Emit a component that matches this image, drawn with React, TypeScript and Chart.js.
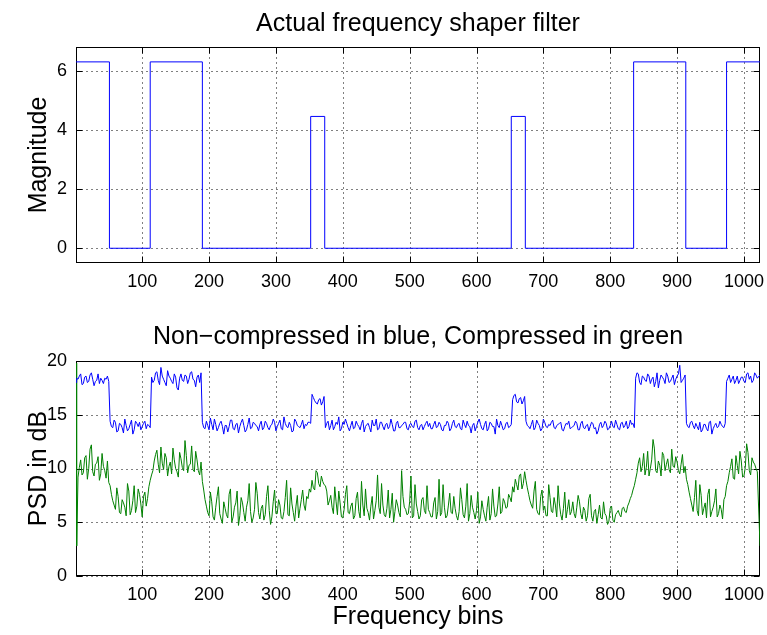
import React, { useEffect, useRef } from "react";
import { Chart, registerables } from "chart.js";

Chart.register(...registerables);

const FONT = "'Liberation Sans', Arial, Helvetica, sans-serif";

// ---------- tick labels ----------
const X_TICKS = [100, 200, 300, 400, 500, 600, 700, 800, 900, 1000];
const TOP_Y_TICKS = [0, 2, 4, 6];
const BOT_Y_TICKS = [0, 5, 10, 15, 20];

// ---------- titles ----------
const TOP_TITLE = "Actual frequency shaper filter";
const TOP_Y_TITLE = "Magnitude";
const BOT_TITLE = "Non\u2212compressed in blue, Compressed in green";
const BOT_Y_TITLE = "PSD in dB";
const BOT_X_TITLE = "Frequency bins";

// ---------- top plot: step filter (bin where each level starts) ----------
const FILTER_STARTS = [1, 51, 112, 190, 352, 373, 652, 673, 835, 913, 974];
const FILTER_LEVELS = [6.32, 0, 6.32, 0, 4.47, 0, 4.47, 0, 6.32, 0, 6.32];
const FILTER_END_BIN = 1024;

// ---------- bottom plot: PSD in dB ----------
// first bins
const PSD_HEAD_BINS = [1, 2];
const BLUE_HEAD = [18.0, 18.4];
const GREEN_HEAD = [19.8, 2.8];
// last bin
const PSD_TAIL_BINS = [1024];
const BLUE_TAIL = [18.7];
const GREEN_TAIL = [2.8];
// set A: bins 4, 8, ..., 1020
const A_FIRST = 4;
const A_LAST = 1020;
// set B: bins 6, 10, ..., 1018
const B_FIRST = 6;
const B_LAST = 1018;
const BIN_STEP = 4;

const BLUE_A = [
  18.3, 18.8, 17.9, 18.6, 18.1, 18.9, 17.7, 18.2, 17.9, 18.2, 18.4, 18.6,
  14.4, 13.8, 14.3, 13.5, 14.1, 13.3, 14.0, 13.7, 14.5, 13.6, 14.2, 14.3, 13.9, 14.4, 14.1, 13.8,
  18.0, 18.9, 18.2, 19.4, 18.3, 17.7, 18.6, 18.1, 18.8, 17.5, 18.4, 18.2, 18.7, 17.9, 18.9, 18.3, 17.6, 18.7, 18.9,
  13.8, 14.4, 13.6, 14.1, 14.6, 13.5, 14.2, 13.9, 14.0, 13.4, 14.5, 13.7, 14.1, 13.3, 14.3, 14.0, 13.6, 14.7, 13.8, 14.2,
  13.9, 14.1, 13.6, 14.4, 13.8, 14.0, 14.6, 13.5, 14.2, 13.7, 14.8, 13.9, 14.3, 13.4, 14.6, 14.0, 13.8, 14.5, 14.1, 14.3, 14.2,
  16.6, 16.1, 16.4, 15.9, 16.7,
  14.2, 13.6, 14.5, 13.9, 14.1, 13.5, 14.3, 14.6, 13.8, 14.0,
  13.7, 14.4, 13.9, 14.2, 13.4, 14.1, 13.8, 14.5, 14.0, 13.6,
  14.3, 13.9, 14.1, 13.7, 14.6, 13.5, 14.2, 13.8, 14.0, 14.3,
  13.7, 14.1, 13.9, 14.4, 13.8, 14.0, 13.6, 14.2, 13.9, 13.7,
  14.1, 13.8, 14.3, 13.6, 14.0, 14.4, 13.5, 14.2, 13.9, 14.1,
  13.7, 14.5, 13.8, 14.0, 13.3, 14.2, 13.9, 14.6, 13.7, 14.1,
  13.5, 14.3, 13.9, 13.2, 14.0, 14.4, 13.6, 14.2, 13.8, 14.1,
  16.8, 16.2, 16.5, 16.0, 16.7,
  14.0, 13.7, 14.5, 13.8, 14.2, 13.5, 14.6, 13.9, 14.1, 14.3,
  13.8, 14.0, 14.2, 13.6, 13.9, 14.1, 13.7, 13.9, 14.4, 13.6,
  14.2, 13.8, 14.0, 13.5, 14.3, 13.7, 13.2, 14.1, 13.8, 14.4,
  13.6, 14.0, 13.9, 14.5, 13.7, 14.2, 13.8, 14.4, 13.9, 14.1, 13.8,
  18.9, 18.0, 18.6, 18.2, 18.8, 17.9, 18.5, 18.1, 17.5, 18.7, 18.3, 18.9, 18.0, 18.4, 17.8, 18.6, 19.6, 18.2, 18.7,
  13.9, 14.3, 14.0, 14.2, 13.6, 13.4, 14.1, 13.7, 14.3, 13.2, 14.0, 13.8, 14.4, 13.9, 14.2,
  18.4, 18.0, 18.6, 18.2, 17.9, 18.5, 18.1, 18.8, 18.3, 18.0, 18.9, 18.4,
];

const BLUE_B = [
  18.6, 17.8, 18.5, 18.0, 18.7, 18.3, 18.1, 18.8, 18.4, 17.9, 18.3, 18.1,
  13.9, 14.5, 13.4, 14.2, 13.8, 14.6, 13.5, 14.1, 13.2, 14.4, 13.9, 13.6, 14.2, 13.7, 14.0,
  18.5, 18.2, 19.0, 17.8, 18.6, 18.0, 19.1, 18.4, 17.9, 18.5, 17.3, 18.8, 18.1, 18.6, 18.3, 19.0, 18.2, 18.5, 18.0,
  14.3, 13.7, 14.0, 14.7, 13.6, 14.1, 13.8, 14.4, 13.2, 14.0,
  13.9, 14.5, 13.6, 14.2, 13.9, 14.6, 13.4, 14.1, 13.7, 14.3,
  14.0, 13.5, 14.4, 13.8, 14.2, 13.6, 14.1, 14.3, 13.9, 14.5,
  13.6, 14.2, 13.8, 14.0, 13.5, 14.4, 13.9, 14.1, 13.7, 14.0, 14.3,
  16.9, 16.3, 16.0, 16.5, 16.2,
  13.8, 14.4, 14.0, 13.6, 14.3, 14.8, 13.7, 14.1, 14.2, 13.5,
  14.4, 13.8, 14.1, 13.6, 14.5, 13.9, 14.2, 13.4, 14.0, 14.6,
  13.7, 14.3, 13.6, 14.2, 13.9, 14.1, 13.5, 14.4, 13.8, 14.1,
  14.3, 13.6, 14.2, 13.8, 14.5, 13.6, 14.1, 13.9, 14.4, 14.2,
  13.7, 14.4, 13.9, 14.1, 13.5, 14.0, 14.2, 13.7, 14.5, 13.8,
  14.2, 13.6, 14.1, 14.4, 13.9, 14.0, 13.5, 14.3, 14.1, 13.6,
  14.4, 13.7, 14.2, 13.9, 14.6, 13.8, 14.0, 13.7, 14.3, 13.9,
  16.4, 16.9, 16.1, 16.6, 16.3,
  14.4, 13.9, 14.1, 13.6, 14.5, 14.0, 13.7, 14.3, 13.8, 14.0,
  14.5, 13.7, 14.1, 14.3, 13.5, 14.2, 14.4, 13.8, 14.0, 14.2,
  13.6, 14.4, 13.7, 14.1, 13.9, 14.2, 13.8, 13.5, 14.3, 14.0,
  14.2, 13.7, 14.4, 13.8, 14.1, 13.6, 14.3, 14.0, 13.7, 14.5, 14.2,
  18.4, 18.8, 17.8, 18.5, 18.1, 18.6, 18.3, 17.6, 18.9, 18.2, 18.5, 17.9, 18.6, 18.1, 18.7, 18.3, 18.8, 18.0, 18.4,
  14.2, 13.8, 14.4, 13.7, 13.9, 14.3, 13.6, 14.1, 13.5, 14.4, 13.7, 14.2, 13.9, 14.1, 13.8,
  18.1, 18.7, 18.3, 17.9, 18.6, 18.2, 18.5, 18.0, 18.9, 18.6, 18.2, 18.7,
];

const GREEN_A = [
  9.2, 10.8, 9.6, 11.2, 10.0, 12.2, 9.3, 10.5, 8.9, 11.4, 9.8, 10.7,
  8.4, 7.0, 6.2, 7.4, 5.8, 6.8, 5.6, 7.9, 6.1, 8.4, 6.5, 7.6, 5.5, 7.8, 7.2, 8.9,
  9.8, 11.3, 10.4, 12.0, 9.9, 11.0, 10.2, 9.5, 10.8, 9.7, 11.5, 10.1, 12.6, 9.6, 10.4, 9.9, 11.6, 9.8, 10.6,
  8.0, 6.5, 5.6, 6.9, 5.2, 7.4, 5.8, 4.9, 6.3, 5.4, 8.1, 5.5, 6.8, 4.7, 7.3, 5.9, 6.4, 8.6, 5.0, 6.2,
  7.7, 5.3, 6.6, 5.7, 8.4, 4.8, 6.9, 5.8, 7.1, 5.4, 6.0, 8.9, 5.6, 6.7, 5.1, 7.5, 6.3, 8.0, 6.1, 7.2, 7.8,
  8.2, 9.8, 8.6, 9.3, 8.5,
  7.9, 7.0, 6.4, 8.3, 5.7, 6.8, 5.4, 7.6, 5.9, 6.5,
  5.3, 7.2, 6.0, 8.8, 5.6, 6.3, 5.2, 7.4, 6.1, 9.4,
  5.8, 6.6, 5.5, 8.0, 6.2, 5.0, 7.1, 5.9, 9.8, 6.4,
  5.7, 6.9, 5.4, 8.5, 6.0, 5.6, 7.3, 5.8, 6.2, 5.5,
  6.8, 5.3, 9.0, 5.9, 6.4, 5.6, 7.7, 5.8, 6.3, 5.2,
  8.2, 5.7, 6.5, 5.1, 7.5, 5.9, 6.1, 4.9, 7.0, 5.6,
  6.4, 5.2, 8.1, 5.5, 6.7, 5.8, 7.2, 6.3, 7.6, 6.9,
  7.8, 8.5, 9.3, 8.1, 9.7,
  8.2, 7.0, 6.3, 8.8, 5.8, 7.4, 6.1, 5.6, 8.5, 6.0,
  7.3, 5.5, 6.7, 5.2, 7.8, 6.2, 5.7, 6.9, 5.4, 7.5,
  5.8, 6.4, 5.1, 7.2, 5.6, 6.0, 4.9, 6.6, 5.3, 5.8,
  4.8, 6.3, 5.2, 5.7, 6.1, 5.5, 6.4, 5.9, 6.8, 7.5, 8.4,
  9.6, 11.0, 10.2, 9.4, 11.6, 10.0, 12.7, 9.8, 10.7, 9.3, 11.2, 10.4, 9.9, 11.8, 10.1, 10.6, 9.5, 11.3, 10.2,
  8.5, 7.2, 6.0, 8.9, 5.6, 7.5, 6.3, 5.4, 8.1, 6.0, 7.0, 5.5, 6.6, 5.3, 7.4,
  8.8, 10.2, 9.1, 11.2, 9.5, 10.7, 9.3, 12.3, 9.8, 11.0, 10.4, 9.7,
];

const GREEN_B = [
  10.1, 9.4, 11.0, 9.0, 11.8, 9.7, 10.4, 11.1, 9.5, 10.2, 9.1, 8.7,
  7.6, 6.6, 8.2, 5.9, 7.1, 6.4, 8.6, 5.7, 7.0, 5.9, 8.1, 6.7, 7.4, 6.5, 8.3,
  9.4, 10.7, 11.7, 9.6, 10.5, 11.4, 9.3, 10.6, 11.9, 10.0, 9.2, 10.9, 9.8, 11.2, 10.3, 12.1, 9.7, 10.8, 9.4,
  8.8, 7.1, 5.9, 7.8, 5.5, 6.4, 8.3, 5.3, 6.9, 5.7,
  7.6, 5.0, 6.4, 7.9, 5.6, 6.8, 5.1, 7.0, 6.0, 5.4,
  8.7, 5.9, 6.3, 5.2, 7.4, 6.1, 5.5, 8.0, 5.8, 6.6,
  5.3, 7.3, 5.7, 8.2, 5.9, 6.5, 5.4, 7.1, 6.6, 7.4, 8.1,
  8.9, 8.0, 9.6, 8.3, 8.8,
  8.4, 6.6, 7.5, 5.8, 6.9, 7.9, 5.5, 6.2, 8.4, 5.8,
  6.8, 5.6, 7.8, 5.4, 6.6, 8.1, 5.9, 6.5, 5.3, 7.0,
  6.4, 8.6, 5.7, 6.3, 5.4, 7.7, 6.0, 6.6, 5.5, 7.4,
  6.2, 5.8, 9.3, 5.6, 6.7, 5.3, 7.1, 6.1, 8.4, 5.9,
  5.5, 7.3, 6.0, 5.6, 8.5, 5.4, 6.6, 5.9, 7.4, 5.6,
  6.0, 7.1, 5.4, 8.6, 5.8, 6.4, 5.3, 7.8, 5.5, 6.2,
  5.1, 7.4, 5.8, 6.5, 5.6, 8.3, 6.0, 6.9, 6.4, 7.3,
  8.3, 9.0, 8.0, 9.5, 8.6,
  8.9, 7.6, 6.6, 7.9, 6.2, 5.7, 8.0, 6.5, 5.6, 7.3,
  5.9, 6.6, 8.4, 5.7, 6.3, 5.4, 7.1, 6.0, 5.8, 6.4,
  6.9, 5.3, 6.1, 5.6, 7.6, 5.1, 6.2, 5.7, 5.4, 6.9,
  5.6, 5.1, 6.5, 5.0, 5.9, 5.7, 6.3, 6.0, 6.5, 7.2, 8.0,
  9.0, 10.5, 9.7, 11.4, 10.1, 9.3, 10.8, 11.9, 9.6, 10.3, 11.5, 9.8, 10.9, 9.6, 10.2, 11.1, 9.8, 10.4, 9.6,
  9.0, 7.8, 6.6, 7.3, 6.1, 8.5, 5.7, 6.8, 7.6, 5.5, 6.4, 8.1, 5.8, 6.2, 7.1,
  8.4, 9.6, 10.9, 9.0, 10.3, 11.6, 9.2, 10.1, 11.5, 9.4, 10.6, 10.0,
];

const BLUE = "#0000ff";
const GREEN = "#008000";

function binRange(first: number, last: number): number[] {
  const out: number[] = [];
  for (let b = first; b <= last; b += BIN_STEP) out.push(b);
  return out;
}

function psdSeries(head: number[], a: number[], b: number[], tail: number[]) {
  const pts: { x: number; y: number }[] = [];
  PSD_HEAD_BINS.forEach((x, i) => pts.push({ x, y: head[i] }));
  binRange(A_FIRST, A_LAST).forEach((x, i) => pts.push({ x, y: a[i] }));
  binRange(B_FIRST, B_LAST).forEach((x, i) => pts.push({ x, y: b[i] }));
  PSD_TAIL_BINS.forEach((x, i) => pts.push({ x, y: tail[i] }));
  return pts.filter((p) => p.y !== undefined).sort((p, q) => p.x - q.x);
}

function filterPoints() {
  const pts = FILTER_STARTS.map((x, i) => ({ x, y: FILTER_LEVELS[i] }));
  pts.push({ x: FILTER_END_BIN, y: FILTER_LEVELS[FILTER_LEVELS.length - 1] });
  return pts;
}

const framePlugin = {
  id: "frame",
  beforeDatasetsDraw(chart: any, _args: any, opts: any) {
    const { ctx, chartArea: a, scales } = chart;
    const L = Math.round(a.left) + 0.5;
    const R = Math.round(a.right) - 0.5;
    const T = Math.round(a.top) + 0.5;
    const B = Math.round(a.bottom) - 0.5;
    ctx.save();
    ctx.strokeStyle = "#000";
    ctx.lineWidth = 1;
    // dotted grid
    ctx.setLineDash([1, 4]);
    ctx.beginPath();
    for (const v of opts.xTicks) {
      const x = Math.round(scales.x.getPixelForValue(v)) + 0.5;
      ctx.moveTo(x, T);
      ctx.lineTo(x, B);
    }
    for (const v of opts.yTicks) {
      const y = Math.round(scales.y.getPixelForValue(v)) + 0.5;
      ctx.moveTo(L, y);
      ctx.lineTo(R, y);
    }
    ctx.stroke();
    ctx.setLineDash([]);
    // inward tick marks
    const tl = 6;
    ctx.beginPath();
    for (const v of opts.xTicks) {
      const x = Math.round(scales.x.getPixelForValue(v)) + 0.5;
      ctx.moveTo(x, B);
      ctx.lineTo(x, B - tl);
      ctx.moveTo(x, T);
      ctx.lineTo(x, T + tl);
    }
    for (const v of opts.yTicks) {
      const y = Math.round(scales.y.getPixelForValue(v)) + 0.5;
      ctx.moveTo(L, y);
      ctx.lineTo(L + tl, y);
      ctx.moveTo(R, y);
      ctx.lineTo(R - tl, y);
    }
    ctx.stroke();
    // box
    ctx.strokeRect(L, T, R - L, B - T);
    ctx.restore();
  },
  afterDraw(chart: any, _args: any, opts: any) {
    const { ctx, chartArea: a } = chart;
    const cx = (a.left + a.right) / 2;
    const cy = (a.top + a.bottom) / 2;
    ctx.save();
    ctx.fillStyle = "#000";
    ctx.font = `${opts.titleSize}px ${FONT}`;
    ctx.textAlign = "center";
    ctx.textBaseline = "alphabetic";
    if (opts.title) ctx.fillText(opts.title, cx, opts.titleBaseline);
    if (opts.xTitle) ctx.fillText(opts.xTitle, cx, opts.xTitleBaseline);
    if (opts.yTitle) {
      ctx.translate(opts.yTitleBaseline, cy);
      ctx.rotate(-Math.PI / 2);
      ctx.fillText(opts.yTitle, 0, 0);
    }
    ctx.restore();
  },
};

function makeScales(yMin: number, yMax: number, yTicks: number[], xAxisHeight: number) {
  const tickFont = { family: FONT, size: 18 };
  return {
    x: {
      type: "linear",
      min: 1,
      max: 1024,
      grid: { display: false, drawTicks: false },
      border: { display: false },
      ticks: {
        font: tickFont,
        color: "#000",
        padding: 8,
        maxRotation: 0,
        autoSkip: false,
        callback: (v: any) => String(v),
      },
      afterBuildTicks: (s: any) => {
        s.ticks = X_TICKS.map((v) => ({ value: v }));
      },
      afterFit: (s: any) => {
        s.height = xAxisHeight;
        s.paddingLeft = 0;
        s.paddingRight = 0;
      },
    },
    y: {
      type: "linear",
      min: yMin,
      max: yMax,
      grid: { display: false, drawTicks: false },
      border: { display: false },
      ticks: {
        font: tickFont,
        color: "#000",
        padding: 9,
        autoSkip: false,
        callback: (v: any) => String(v),
      },
      afterBuildTicks: (s: any) => {
        s.ticks = yTicks.map((v) => ({ value: v }));
      },
      afterFit: (s: any) => {
        s.width = 76;
        s.paddingTop = 0;
        s.paddingBottom = 0;
      },
    },
  };
}

export default function App() {
  const topRef = useRef<HTMLCanvasElement | null>(null);
  const botRef = useRef<HTMLCanvasElement | null>(null);

  useEffect(() => {
    document.body.style.margin = "0";
    document.body.style.background = "#fff";

    const top = new Chart(topRef.current as HTMLCanvasElement, {
      type: "line",
      data: {
        datasets: [
          {
            data: filterPoints(),
            stepped: "before",
            borderColor: BLUE,
            borderWidth: 1,
            pointRadius: 0,
            fill: false,
          },
        ],
      },
      options: {
        responsive: false,
        animation: false,
        layout: { padding: { left: 0, right: 7, top: 47, bottom: 0 } },
        scales: makeScales(-0.5, 6.8246, TOP_Y_TICKS, 37) as any,
        plugins: {
          legend: { display: false },
          tooltip: { enabled: false },
          frame: {
            xTicks: X_TICKS,
            yTicks: TOP_Y_TICKS,
            title: TOP_TITLE,
            titleBaseline: 31,
            titleSize: 25,
            yTitle: TOP_Y_TITLE,
            yTitleBaseline: 46,
          },
        } as any,
      },
      plugins: [framePlugin],
    });

    const blue = psdSeries(BLUE_HEAD, BLUE_A, BLUE_B, BLUE_TAIL);
    const green = psdSeries(GREEN_HEAD, GREEN_A, GREEN_B, GREEN_TAIL);

    const bot = new Chart(botRef.current as HTMLCanvasElement, {
      type: "line",
      data: {
        datasets: [
          { data: blue, borderColor: BLUE, borderWidth: 1, pointRadius: 0, fill: false },
          { data: green, borderColor: GREEN, borderWidth: 1, pointRadius: 0, fill: false },
        ],
      },
      options: {
        responsive: false,
        animation: false,
        layout: { padding: { left: 0, right: 7, top: 61, bottom: 0 } },
        scales: makeScales(0, 20, BOT_Y_TICKS, 59) as any,
        plugins: {
          legend: { display: false },
          tooltip: { enabled: false },
          frame: {
            xTicks: X_TICKS,
            yTicks: BOT_Y_TICKS,
            title: BOT_TITLE,
            titleBaseline: 44,
            titleSize: 25,
            xTitle: BOT_X_TITLE,
            xTitleBaseline: 324,
            yTitle: BOT_Y_TITLE,
            yTitleBaseline: 46,
          },
        } as any,
      },
      plugins: [framePlugin],
    });

    return () => {
      top.destroy();
      bot.destroy();
    };
  }, []);

  return (
    <div style={{ position: "absolute", left: 0, top: 0, width: 767, height: 635, background: "#fff" }}>
      <canvas ref={topRef} width={767} height={300} style={{ position: "absolute", left: 0, top: 0 }} />
      <canvas ref={botRef} width={767} height={335} style={{ position: "absolute", left: 0, top: 300 }} />
    </div>
  );
}
